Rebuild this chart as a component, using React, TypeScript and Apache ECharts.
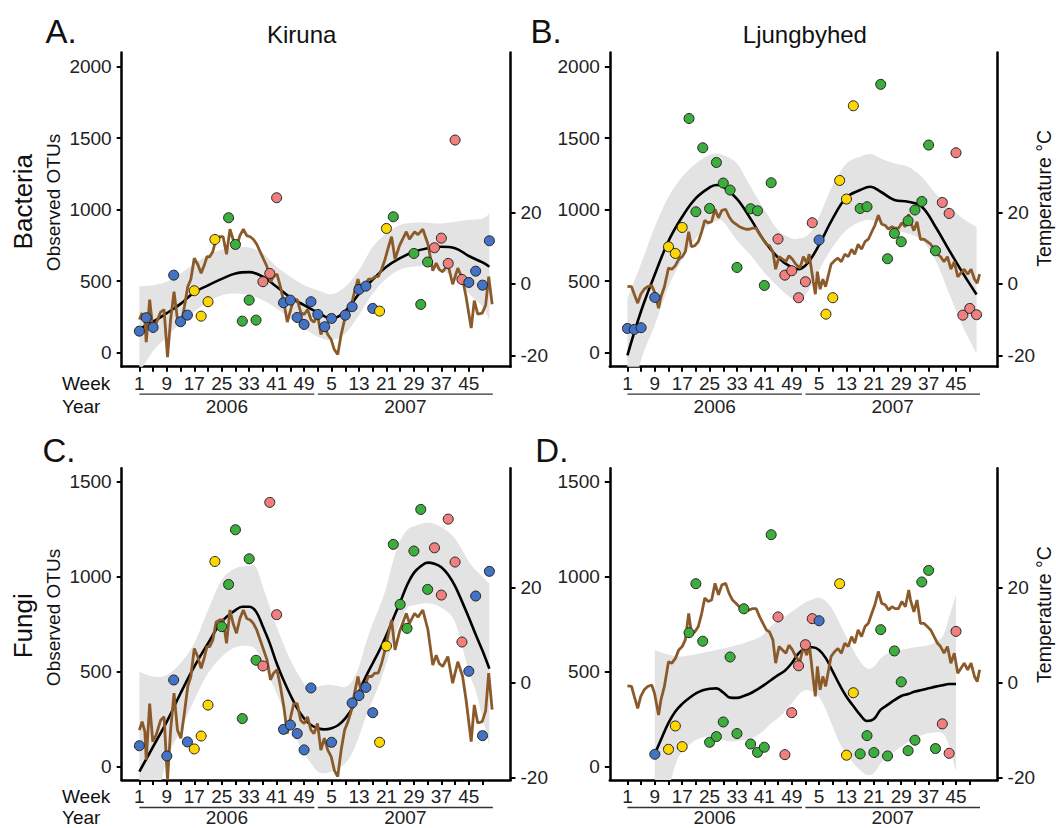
import React, { useEffect, useRef } from "react";
import * as echarts from "echarts";

const FONT = '"Liberation Sans", Arial, Helvetica, sans-serif';

// ---------- axis ticks & labels ----------
const weekTicks = [1, 5, 9, 13, 17, 21, 25, 29, 33, 37, 41, 45, 49, 53, 57, 61, 65, 69, 73, 77, 81, 85, 89, 93, 97, 101];
const weekLabelPos = [1, 9, 17, 25, 33, 41, 49, 57, 65, 73, 81, 89, 97];
const weekLabels = ["1", "9", "17", "25", "33", "41", "49", "5", "13", "21", "29", "37", "45"];
const yearNames = ["2006", "2007"];
const yearFirstWeek = [1, 53];
const yearLastWeek = [52, 104];
const bactTicks = [0, 500, 1000, 1500, 2000];
const fungiTicks = [0, 500, 1000, 1500];
const tempTicks = [-20, 0, 20];

// ---------- temperature (°C) ----------
const kirunaTempWeeks = [1, 1.8, 2.6, 3, 4, 4.9, 5.9, 7.2, 8.2, 9.2, 10.1, 11.1, 12.1, 13.1, 14.1, 15.1, 16, 17, 18, 19, 20, 20.7, 21.5, 22.4, 23.4, 24.4, 25.4, 26.4, 27.4, 28.3, 29.3, 30.3, 31.3, 32.3, 33.3, 34.2, 35.2, 36.2, 37.2, 38.2, 39.2, 40.1, 41.1, 42.1, 43.1, 44.1, 45.1, 46, 47, 48, 49, 50, 51, 51.9, 52.9, 53.9, 54.9, 55.9, 56.9, 57.8, 58.8, 59.8, 60.8, 61.8, 62.8, 63.7, 64.7, 65.7, 66.7, 67.7, 68.7, 69.6, 70.6, 71.6, 72.6, 73.6, 74.5, 75.5, 76.8, 78.8, 79.7, 81.2, 82.2, 83.6, 85.1, 86.5, 87.5, 88.4, 89.4, 90.9, 92.3, 93.8, 95.2, 96.2, 97.7, 98.6, 99.6, 100.9, 101.9, 102.8, 103.8];
const kirunaTemp = [-10.0, -8.2, -10.3, -16.3, -4.4, -12.4, -11.0, -7.9, -7.2, -20.5, -10.0, -2.2, -10.0, -11.7, -6.5, -0.8, 1.3, 7.2, 5.5, 3.0, 5.5, 7.6, 7.6, 9.0, 12.8, 13.2, 13.2, 8.3, 15.3, 12.5, 10.4, 13.5, 15.3, 13.5, 13.2, 12.5, 11.1, 9.0, 6.9, 4.8, 0.6, 2.0, 2.7, -0.8, -5.1, -10.7, -7.2, -4.4, -4.4, -7.9, -8.6, -7.2, -10.0, -10.7, -8.6, -14.2, -11.7, -14.2, -15.6, -18.4, -19.8, -14.2, -10.0, -8.2, -5.8, -2.2, 1.3, -2.2, -0.8, 1.3, 1.3, 2.0, 2.0, 4.1, 6.9, 10.4, 13.2, 6.9, 10.7, 14.6, 12.5, 14.6, 13.8, 15.3, 11.1, 3.7, 5.8, 4.0, 3.4, 5.5, -0.1, 4.4, 1.3, -3.6, -12.4, -4.7, -8.5, -8.2, -6.0, 2.0, -5.7];

const ljungTempWeeks = [1, 2.2, 3, 4, 4.9, 5.9, 6.9, 8.1, 8.9, 10.1, 10.8, 11.8, 13, 14, 15, 16, 17, 17.9, 18.9, 19.7, 20.7, 21.7, 22.7, 23.6, 24.6, 25.6, 26.6, 27.6, 28.6, 29.7, 30.7, 31.7, 32.7, 33.7, 34.7, 35.6, 36.6, 37.6, 38.6, 39.6, 40.6, 41.6, 42.5, 43.5, 44.3, 45.3, 46.3, 47.3, 48.2, 49.2, 50.2, 51.4, 52.4, 53.4, 54.1, 55.3, 55.9, 56.5, 57.3, 58.1, 58.9, 59.6, 60.5, 61.5, 62.5, 63.5, 64.5, 65.5, 66.5, 67.4, 68.4, 69.4, 70.4, 71.4, 72.4, 73.3, 74.3, 75.3, 76.3, 77.3, 78.3, 79.2, 80.2, 81.2, 82.2, 83.2, 83.7, 84.7, 85.6, 86.6, 87.6, 88.6, 89.6, 90.6, 91.6, 92.5, 93.5, 94.5, 95.5, 96.5, 97.5, 98.4, 99.4, 100.4, 101.4, 102.4, 103.2, 103.9];
const ljungTemp = [-0.7, -0.8, -2.9, -5.4, -2.9, -1.5, -0.8, -0.5, -2.2, -6.8, -3.6, -0.8, 4.4, 4.1, 5.1, 6.9, 7.6, 9.0, 14.6, 10.4, 10.7, 11.8, 14.6, 17.8, 17.1, 17.4, 20.9, 18.5, 20.6, 20.9, 18.8, 17.4, 16.7, 16.0, 15.6, 15.3, 15.3, 15.6, 15.6, 13.9, 12.5, 11.1, 10.7, 9.0, 4.1, 7.6, 6.9, 6.2, 7.9, 6.9, 5.5, 4.4, 7.6, 5.8, 8.3, 0.6, -2.9, 3.4, -1.5, 1.3, -0.8, 2.0, 5.5, 6.5, 7.2, 6.2, 8.3, 7.6, 9.7, 8.3, 11.1, 9.7, 11.8, 12.5, 14.6, 16.4, 19.2, 16.7, 16.4, 15.3, 16.0, 15.6, 15.6, 17.1, 16.0, 19.5, 17.4, 14.9, 17.4, 12.5, 12.5, 11.8, 11.1, 9.7, 8.3, 7.6, 6.2, 7.6, 4.1, 6.2, 2.0, 3.0, 4.1, 2.7, 4.1, 1.3, 0.2, 2.7];

// ---------- A. Kiruna bacteria ----------
const aWeeks = [1, 3, 5, 11, 13, 15, 17, 19, 21, 23, 27, 29, 31, 33, 35, 37, 39, 41, 43, 45, 47, 49, 51, 53, 55, 57, 61, 63, 65, 67, 69, 71, 73, 75, 81, 83, 85, 87, 89, 91, 93, 95, 97, 99, 101, 103];
const aOTU = [149, 243, 175, 541, 215, 261, 432, 254, 355, 791, 943, 756, 219, 366, 226, 495, 553, 1083, 348, 366, 245, 196, 355, 266, 180, 238, 261, 320, 441, 464, 308, 289, 868, 950, 693, 336, 633, 733, 800, 623, 1487, 511, 490, 569, 471, 782];
const aSeason = "WWWWWWPPPPSSSSSAAAWWWWWWWWWWWWWPPSSSSAAAAAWWWW";
const aFitWeeks = [1, 5, 9, 13, 17, 21, 25, 29, 33, 37, 41, 45, 49, 53, 57, 61, 65, 69, 73, 77, 81, 85, 89, 93, 97, 101, 103];
const aFit = [165, 215, 275, 340, 420, 470, 515, 553, 562, 530, 460, 385, 331, 280, 238, 290, 410, 510, 600, 660, 705, 730, 740, 730, 675, 630, 600];
const aBandLow = [-140, 10, 110, 208, 285, 355, 401, 413, 401, 366, 308, 238, 168, 110, 86, 133, 261, 413, 518, 581, 600, 600, 576, 518, 413, 320, 226];
const aBandHigh = [464, 471, 495, 553, 623, 681, 721, 735, 735, 693, 600, 530, 471, 436, 408, 460, 576, 740, 833, 892, 908, 908, 903, 915, 927, 938, 973];

// ---------- B. Ljungbyhed bacteria ----------
const bWeeks = [1, 3, 5, 9, 13, 15, 17, 19, 21, 23, 25, 27, 29, 31, 33, 37, 39, 41, 43, 45, 47, 49, 51, 53, 55, 57, 59, 61, 63, 65, 67, 69, 71, 75, 77, 79, 81, 83, 85, 87, 89, 91, 93, 95, 97, 99, 101, 103];
const bOTU = [168, 161, 173, 385, 740, 693, 875, 1638, 985, 1433, 1008, 1330, 1186, 1137, 595, 1006, 992, 469, 1188, 794, 541, 572, 383, 495, 908, 787, 268, 383, 1204, 1074, 1727, 1008, 1020, 1877, 656, 833, 775, 922, 997, 1057, 1452, 712, 1050, 973, 1398, 261, 308, 264];
const bSeason = "WWWWPPPSSSSSSSSSSSSAAAAAAWPPPPPSSSSSSSSSSSAAAAAA";
const bFitWeeks = [1, 5, 9, 13, 17, 21, 25, 27, 29, 33, 37, 41, 45, 49, 51, 53, 55, 57, 61, 65, 69, 72, 75, 79, 83, 87, 91, 95, 99, 103];
const bFit = [-20, 290, 545, 780, 950, 1080, 1155, 1172, 1160, 1075, 935, 780, 665, 595, 583, 608, 670, 752, 938, 1085, 1137, 1160, 1125, 1067, 1055, 1020, 880, 715, 555, 406];
const bBandLow = [-450, -54, 191, 460, 650, 800, 900, 920, 915, 786, 680, 560, 460, 378, 371, 401, 483, 577, 740, 857, 915, 927, 903, 857, 833, 786, 646, 413, 180, -7];
const bBandHigh = [378, 623, 880, 1090, 1230, 1323, 1382, 1393, 1382, 1323, 1160, 1000, 857, 798, 798, 810, 857, 950, 1172, 1323, 1370, 1389, 1358, 1323, 1300, 1230, 1113, 1020, 938, 880];

// ---------- C. Kiruna fungi ----------
const cWeeks = [1, 9, 11, 15, 17, 19, 21, 23, 25, 27, 29, 31, 33, 35, 37, 39, 41, 43, 45, 47, 49, 51, 57, 63, 65, 67, 69, 71, 73, 75, 77, 79, 81, 83, 85, 87, 89, 91, 93, 95, 97, 99, 101, 103];
const cOTU = [110, 56, 456, 130, 93, 161, 324, 1080, 737, 959, 1247, 253, 1094, 560, 530, 1391, 800, 196, 219, 174, 88, 414, 128, 335, 374, 417, 284, 128, 635, 1170, 854, 728, 1135, 1354, 933, 1152, 903, 1303, 1077, 656, 502, 898, 163, 1028];
const cSeason = "WWWWPPPPSSSSSSAAAWWWWWWWWWWPPSSSSSSAAAAAWWWW";
const cFitWeeks = [1, 5, 9, 13, 17, 21, 25, 29, 31, 33, 35, 37, 39, 41, 43, 45, 47, 49, 51, 53, 55, 57, 59, 61, 63, 65, 67, 69, 71, 73, 75, 77, 79, 81, 83, 85, 87, 89, 91, 93, 95, 97, 99, 101, 103];
const cFit = [-26, 105, 237, 386, 526, 649, 763, 824, 842, 842, 816, 737, 649, 544, 456, 377, 307, 254, 219, 202, 196, 202, 219, 254, 307, 395, 474, 544, 614, 693, 780, 865, 955, 1020, 1055, 1074, 1068, 1050, 1010, 950, 870, 785, 695, 610, 515];
const cBandWeeks = [1, 5, 9, 13, 17, 21, 25, 29, 33, 35, 37, 41, 45, 49, 51, 53, 55, 57, 59, 61, 63, 65, 67, 69, 71, 73, 75, 77, 79, 81, 85, 89, 93, 97, 99, 101, 103];
const cBandLow = [-550, -260, 35, 193, 351, 491, 579, 628, 635, 614, 544, 386, 210, 70, 18, -26, -35, -26, -9, 18, 70, 158, 263, 351, 438, 544, 667, 760, 835, 850, 860, 836, 760, 500, 400, 260, 110];
const cBandHigh = [500, 474, 482, 544, 649, 824, 982, 1044, 1056, 1049, 947, 737, 561, 438, 412, 421, 430, 430, 425, 420, 450, 526, 649, 754, 842, 947, 1087, 1190, 1245, 1265, 1284, 1262, 1200, 1080, 1035, 1000, 965];

// ---------- D. Ljungbyhed fungi ----------
const dWeeks = [9, 13, 15, 17, 19, 21, 23, 25, 27, 29, 31, 33, 35, 37, 39, 41, 43, 45, 47, 49, 51, 53, 55, 57, 63, 65, 67, 69, 71, 73, 75, 77, 79, 81, 83, 85, 87, 89, 91, 93, 95, 97];
const dOTU = [65, 91, 214, 105, 705, 963, 660, 128, 158, 235, 577, 174, 831, 119, 75, 102, 1221, 788, 63, 284, 531, 642, 779, 768, 963, 60, 389, 67, 163, 74, 721, 56, 609, 446, 84, 139, 972, 1033, 95, 225, 70, 712];
const dSeason = "WPPPSSSSSSSSSSSSSAAAAAAWPPPSSSSSSSSSSSSAAA";
const dFitWeeks = [9, 11, 13, 15, 17, 19, 21, 23, 25, 27, 29, 31, 33, 35, 37, 39, 41, 43, 45, 47, 49, 51, 53, 55, 57, 59, 61, 63, 65, 67, 69, 71, 73, 75, 77, 79, 81, 83, 85, 87, 89, 91, 93, 95, 97];
const dFit = [67, 150, 230, 290, 330, 360, 385, 402, 410, 412, 390, 363, 362, 372, 386, 407, 430, 456, 482, 505, 544, 596, 623, 628, 614, 570, 500, 430, 368, 319, 272, 240, 250, 300, 325, 350, 372, 382, 395, 403, 412, 421, 428, 435, 435];
const dBandWeeks = [9, 11, 13, 15, 17, 19, 21, 23, 25, 27, 29, 31, 33, 35, 37, 39, 41, 43, 45, 47, 49, 51, 53, 55, 57, 59, 61, 63, 65, 67, 69, 71, 73, 75, 77, 81, 85, 89, 93, 95, 97];
const dBandLow = [-480, -300, -130, 10, 80, 115, 140, 155, 158, 150, 140, 132, 135, 140, 145, 165, 193, 228, 254, 289, 333, 377, 403, 395, 368, 298, 210, 123, 70, 18, -18, -44, -35, 18, 53, 105, 149, 175, 175, 105, -26];
const dBandHigh = [614, 600, 590, 580, 580, 585, 592, 600, 606, 614, 622, 630, 640, 650, 662, 676, 700, 740, 765, 790, 815, 840, 865, 880, 890, 870, 824, 754, 684, 614, 553, 517, 526, 570, 596, 614, 628, 640, 684, 789, 903];

// ---------- styling ----------
const SEASON_COLORS: Record<string, string> = { W: "#4472C4", P: "#FFD700", S: "#3DAE3D", A: "#F08080" };
const BAND = "#E3E3E3";
const BROWN = "#8B5A2B";
const X_MIN = -4.15;
const X_MAX = 109.15;
const DEG = 25; // OTU units per °C on the secondary axis

const panels = [
  { weeks: aWeeks, otu: aOTU, season: aSeason, fitWeeks: aFitWeeks, fit: aFit, bandWeeks: aFitWeeks, low: aBandLow, high: aBandHigh, tWeeks: kirunaTempWeeks, temp: kirunaTemp, yMin: -100, yMax: 2100, ticks: bactTicks, tOffset: 480, yearDy: 39.5 },
  { weeks: bWeeks, otu: bOTU, season: bSeason, fitWeeks: bFitWeeks, fit: bFit, bandWeeks: bFitWeeks, low: bBandLow, high: bBandHigh, tWeeks: ljungTempWeeks, temp: ljungTemp, yMin: -100, yMax: 2100, ticks: bactTicks, tOffset: 480, yearDy: 39.5 },
  { weeks: cWeeks, otu: cOTU, season: cSeason, fitWeeks: cFitWeeks, fit: cFit, bandWeeks: cBandWeeks, low: cBandLow, high: cBandHigh, tWeeks: kirunaTempWeeks, temp: kirunaTemp, yMin: -70.5, yMax: 1570.5, ticks: fungiTicks, tOffset: 442, yearDy: 37 },
  { weeks: dWeeks, otu: dOTU, season: dSeason, fitWeeks: dFitWeeks, fit: dFit, bandWeeks: dBandWeeks, low: dBandLow, high: dBandHigh, tWeeks: ljungTempWeeks, temp: ljungTemp, yMin: -70.5, yMax: 1570.5, ticks: fungiTicks, tOffset: 442, yearDy: 37 },
];

const gridBoxes = [
  { left: 121.7, top: 52.5, width: 388.8, height: 314.2 },
  { left: 609.8, top: 52.5, width: 387.8, height: 314.2 },
  { left: 121.7, top: 468.3, width: 388.8, height: 311.7 },
  { left: 609.8, top: 468.3, width: 387.8, height: 311.7 },
];

const fmtWeek = (v: number) => {
  const k = weekLabelPos.indexOf(Math.round(v));
  return k >= 0 ? weekLabels[k] : "";
};

// Catmull-Rom through pixel points -> cubic bezier path commands
function curveThrough(pts: number[][]) {
  let d = "";
  for (let i = 0; i < pts.length - 1; i++) {
    const p0 = pts[i - 1] || pts[i];
    const p1 = pts[i];
    const p2 = pts[i + 1];
    const p3 = pts[i + 2] || p2;
    const c1x = p1[0] + (p2[0] - p0[0]) / 6;
    const c1y = p1[1] + (p2[1] - p0[1]) / 6;
    const c2x = p2[0] - (p3[0] - p1[0]) / 6;
    const c2y = p2[1] - (p3[1] - p1[1]) / 6;
    d += ` C${c1x.toFixed(2)},${c1y.toFixed(2)} ${c2x.toFixed(2)},${c2y.toFixed(2)} ${p2[0].toFixed(2)},${p2[1].toFixed(2)}`;
  }
  return d;
}

function buildOption() {
  const axisLine = { show: true, onZero: false, lineStyle: { color: "#000", width: 2.5 } };
  const tickBase = { show: true, length: 5, lineStyle: { color: "#000", width: 2 } };
  const labelBase = { show: true, fontSize: 19, color: "#222", fontFamily: FONT };

  const xAxis = panels.map((p, i) => ({
    type: "value", gridIndex: i, min: X_MIN, max: X_MAX,
    axisLine, axisTick: { ...tickBase, customValues: weekTicks },
    axisLabel: { ...labelBase, customValues: weekLabelPos, formatter: fmtWeek, margin: 7 },
    splitLine: { show: false },
  }));

  const yAxis: any[] = [];
  panels.forEach((p, i) => {
    yAxis.push({
      type: "value", gridIndex: i, position: "left", min: p.yMin, max: p.yMax,
      axisLine, axisTick: { ...tickBase, customValues: p.ticks },
      axisLabel: { ...labelBase, customValues: p.ticks, margin: 10, formatter: (v: number) => String(v) },
      splitLine: { show: false },
    });
    yAxis.push({
      type: "value", gridIndex: i, position: "right",
      min: (p.yMin - p.tOffset) / DEG, max: (p.yMax - p.tOffset) / DEG,
      axisLine, axisTick: { ...tickBase, customValues: tempTicks },
      axisLabel: { ...labelBase, customValues: tempTicks, margin: 10, formatter: (v: number) => String(v) },
      splitLine: { show: false },
    });
  });

  const series: any[] = [];
  panels.forEach((p, i) => {
    const common = { xAxisIndex: i, yAxisIndex: 2 * i, silent: true };
    // confidence band
    series.push({
      ...common, type: "custom", clip: true, z: 1,
      encode: { x: 0, y: [1, 2] },
      data: p.bandWeeks.map((w, k) => [w, p.low[k], p.high[k]]),
      renderItem: (params: any, api: any) => {
        if (params.dataIndex !== 0) return null;
        const up = p.bandWeeks.map((w, k) => api.coord([w, p.high[k]]));
        const lo = p.bandWeeks.map((w, k) => api.coord([w, p.low[k]])).reverse();
        const d = `M${up[0][0]},${up[0][1]}` + curveThrough(up) + ` L${lo[0][0]},${lo[0][1]}` + curveThrough(lo) + " Z";
        return { type: "path", shape: { pathData: d }, style: { fill: BAND, stroke: "none" } };
      },
    });
    // smoother
    series.push({
      ...common, type: "line", smooth: 0.4, symbol: "none",
      data: p.fitWeeks.map((w, k) => [w, p.fit[k]]), lineStyle: { color: "#000", width: 2.6 }, z: 2,
    });
    // temperature
    series.push({
      xAxisIndex: i, yAxisIndex: 2 * i + 1, silent: true, type: "line", symbol: "none",
      data: p.tWeeks.map((w, k) => [w, p.temp[k]]), lineStyle: { color: BROWN, width: 2.8 }, z: 3,
    });
    // samples
    series.push({
      ...common, type: "scatter", symbolSize: 10, z: 4,
      itemStyle: { borderColor: "#222", borderWidth: 1, opacity: 1 },
      data: p.weeks.map((w, k) => ({ value: [w, p.otu[k]], itemStyle: { color: SEASON_COLORS[p.season[k]] } })),
    });
    // year brackets
    series.push({
      ...common, type: "custom", clip: false, z: 5,
      data: yearNames.map((n, k) => [yearFirstWeek[k], yearLastWeek[k]]),
      renderItem: (params: any, api: any) => {
        const k = params.dataIndex;
        const a = api.coord([yearFirstWeek[k], p.yMin]);
        const b = api.coord([yearLastWeek[k], p.yMin]);
        const y = a[1];
        return {
          type: "group",
          children: [
            { type: "line", shape: { x1: a[0], y1: y + 27.5, x2: b[0], y2: y + 27.5 }, style: { stroke: "#333", lineWidth: 1.3 } },
            {
              type: "text", x: (a[0] + b[0]) / 2, y: y + p.yearDy,
              style: { text: yearNames[k], align: "center", verticalAlign: "middle", textAlign: "center", textVerticalAlign: "middle", fontSize: 19, fontFamily: FONT, fill: "#222" },
            },
          ],
        };
      },
    });
  });

  const txt = (text: string, x: number, y: number, size: number, align: string, rotate = 0) => ({
    type: "text", x, y, rotation: rotate, silent: true,
    style: { text, font: `${size}px ${FONT}`, fill: "#111", align, verticalAlign: "middle", textAlign: align, textVerticalAlign: "middle" },
  });
  const R = Math.PI / 2;
  const graphic = [
    txt("A.", 45.5, 31.8, 33, "left"),
    txt("B.", 530.4, 31.8, 33, "left"),
    txt("C.", 42.4, 450.2, 33, "left"),
    txt("D.", 535.3, 450.2, 33, "left"),
    txt("Kiruna", 301.7, 34.9, 24, "center"),
    txt("Ljungbyhed", 804.9, 34.9, 24, "center"),
    txt("Week", 62, 383.3, 19, "left"),
    txt("Year", 62, 406.2, 19, "left"),
    txt("Week", 62, 796.7, 19, "left"),
    txt("Year", 62, 817, 19, "left"),
    txt("Bacteria", 22.9, 201.7, 26, "center", R),
    txt("Fungi", 22.9, 625.8, 26, "center", R),
    txt("Observed OTUs", 53.5, 202.5, 19, "center", R),
    txt("Observed OTUs", 53.5, 617.5, 19, "center", R),
    txt("Temperature °C", 1043.5, 198.3, 19.5, "center", R),
    txt("Temperature °C", 1043.5, 614.5, 19.5, "center", R),
  ];

  return {
    animation: false,
    backgroundColor: "#ffffff",
    textStyle: { fontFamily: FONT },
    grid: gridBoxes.map((g) => ({ ...g, containLabel: false, outerBoundsMode: "none", show: false })),
    xAxis,
    yAxis,
    series,
    graphic,
  };
}

export default function App() {
  const ref = useRef<HTMLDivElement>(null);
  useEffect(() => {
    document.body.style.margin = "0";
    document.body.style.overflow = "hidden";
    if (!ref.current) return;
    const chart = echarts.init(ref.current, undefined, { renderer: "svg" });
    chart.setOption(buildOption() as any);
    return () => chart.dispose();
  }, []);
  return <div ref={ref} style={{ width: 1056, height: 828 }} />;
}
